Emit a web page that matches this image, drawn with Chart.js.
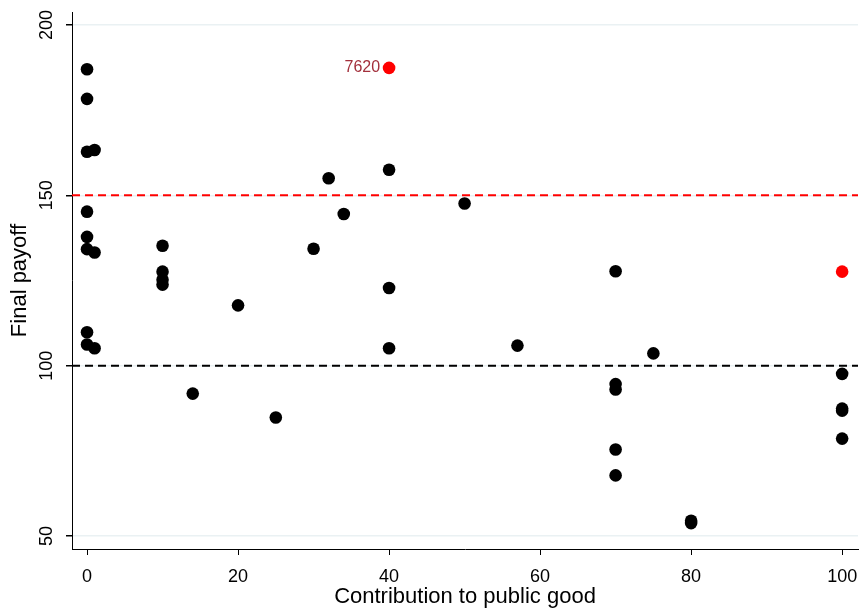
<!DOCTYPE html>
<html>
<head>
<meta charset="utf-8">
<script src="https://cdn.jsdelivr.net/npm/chart.js@4"></script>
<style>
  body { margin: 0; background: #fff; }
  canvas { display: block; }
</style>
</head>
<body>
<canvas id="myChart" width="861" height="609"></canvas>
<script>
// contribution (x) and final payoff (y) per subject
const contrib = [0, 0, 0, 1, 0, 0, 0, 1, 0, 0, 1,
  10, 10, 10, 10, 14, 20, 25, 30, 32, 34,
  40, 40, 40, 50, 57,
  70, 70, 70, 70, 70, 75, 80, 80,
  100, 100, 100, 100]
const payoff = [187.0, 178.3, 162.8, 163.3, 145.2, 137.8, 134.2, 133.2, 109.8, 106.2, 105.1,
  135.2, 127.6, 125.2, 123.8, 91.8, 117.7, 84.8, 134.3, 155.0, 144.5,
  157.5, 122.8, 105.1, 147.6, 105.9,
  127.7, 94.6, 93.0, 75.4, 67.8, 103.6, 54.5, 53.8,
  97.6, 87.4, 86.8, 78.6]

// highlighted subjects (red)
const hlContrib = [40, 100]
const hlPayoff = [187.4, 127.6]
const hlLabels = ['7620', '']

// reference lines
const refValues = [150, 100]
const refColors = ['#ff0000', '#000000']

const yTicks = [50, 100, 150, 200]
const xTicks = [0, 20, 40, 60, 80, 100]

const ctx = document.getElementById('myChart')

const refLinesPlugin = {
  id: 'refLines',
  beforeDatasetsDraw(chart) {
    const { ctx, chartArea, scales } = chart
    ctx.save()
    ctx.lineWidth = 2
    ctx.setLineDash([8, 5])
    refValues.forEach((v, i) => {
      const y = scales.y.getPixelForValue(v)
      ctx.strokeStyle = refColors[i]
      ctx.beginPath()
      ctx.moveTo(chartArea.left, y)
      ctx.lineTo(chartArea.right, y)
      ctx.stroke()
    })
    ctx.restore()
  }
}

const pointLabelPlugin = {
  id: 'pointLabels',
  afterDatasetsDraw(chart) {
    const { ctx } = chart
    const meta = chart.getDatasetMeta(1)
    ctx.save()
    ctx.font = '16px "Liberation Sans", Arial, sans-serif'
    ctx.fillStyle = '#a3303c'
    ctx.textAlign = 'right'
    ctx.textBaseline = 'middle'
    meta.data.forEach((pt, i) => {
      if (hlLabels[i]) ctx.fillText(hlLabels[i], pt.x - 9, pt.y)
    })
    ctx.restore()
  }
}

new Chart(ctx, {
  type: 'scatter',
  data: {
    datasets: [
      {
        data: contrib.map((c, i) => ({ x: c, y: payoff[i] })),
        backgroundColor: '#000000',
        borderWidth: 0,
        pointRadius: 6.3
      },
      {
        data: hlContrib.map((c, i) => ({ x: c, y: hlPayoff[i] })),
        backgroundColor: '#ff0000',
        borderWidth: 0,
        pointRadius: 6.3
      }
    ]
  },
  options: {
    responsive: false,
    animation: false,
    layout: { autoPadding: false, padding: { top: 12, right: 3, left: 0, bottom: 0 } },
    plugins: {
      legend: { display: false },
      tooltip: { enabled: false }
    },
    scales: {
      x: {
        type: 'linear',
        min: -1.99,
        max: 102.1,
        afterBuildTicks: s => { s.ticks = xTicks.map(v => ({ value: v })) },
        afterFit: s => { s.height = 60; s.paddingLeft = 0; s.paddingRight = 0 },
        grid: { drawOnChartArea: false, drawTicks: true, tickLength: 6, tickColor: '#000' },
        border: { color: '#000', width: 1 },
        ticks: {
          color: '#000',
          padding: 11,
          font: { family: '"Liberation Sans", Arial, sans-serif', size: 18 }
        },
        title: {
          display: true,
          text: 'Contribution to public good',
          color: '#000',
          padding: { top: 0, bottom: 1 },
          font: { family: '"Liberation Sans", Arial, sans-serif', size: 22, lineHeight: 1 }
        }
      },
      y: {
        type: 'linear',
        min: 46.2,
        max: 203.8,
        afterBuildTicks: s => { s.ticks = yTicks.map(v => ({ value: v })) },
        afterFit: s => { s.width = 72; s.paddingTop = 0; s.paddingBottom = 0 },
        grid: { color: '#eaf1f3', lineWidth: 1.5, drawTicks: true, tickLength: 6, tickColor: '#000' },
        border: { color: '#000', width: 1 },
        ticks: {
          color: '#000',
          minRotation: 90,
          maxRotation: 90,
          crossAlign: 'center',
          padding: 4,
          font: { family: '"Liberation Sans", Arial, sans-serif', size: 18 }
        },
        title: {
          display: true,
          text: 'Final payoff',
          color: '#000',
          padding: { top: 9, bottom: 0 },
          font: { family: '"Liberation Sans", Arial, sans-serif', size: 22, lineHeight: 1 }
        }
      }
    }
  },
  plugins: [refLinesPlugin, pointLabelPlugin]
})
</script>
</body>
</html>
